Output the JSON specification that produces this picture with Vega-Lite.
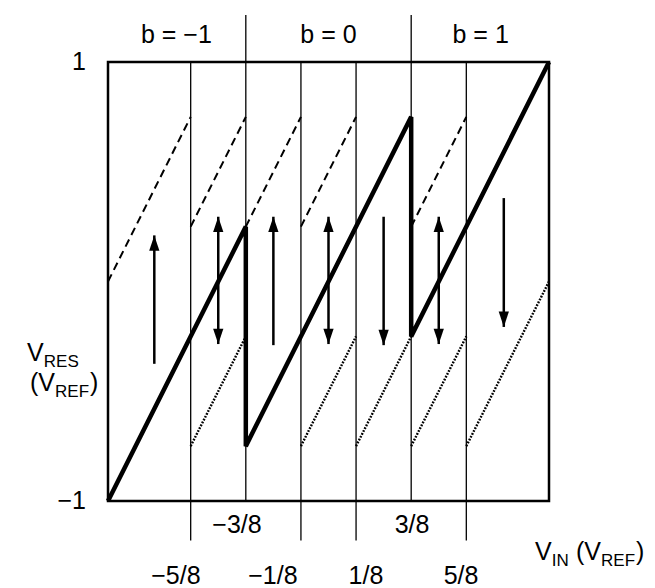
{
  "$schema": "https://vega.github.io/schema/vega-lite/v6.json",
  "width": 441,
  "height": 439,
  "autosize": {"type": "none"},
  "padding": {"left": 108, "top": 62, "right": 106, "bottom": 87},
  "background": "white",
  "config": {"view": {"stroke": null}, "font": "Liberation Sans", "text": {"font": "Liberation Sans", "color": "black"}},
  "datasets": {
    "grid": [
      {"x": -0.625, "y": 1, "y2": -1.18},
      {"x": -0.125, "y": 1, "y2": -1.18},
      {"x": 0.125, "y": 1, "y2": -1.18},
      {"x": 0.625, "y": 1, "y2": -1.18},
      {"x": -0.375, "y": 1.214, "y2": -1},
      {"x": 0.375, "y": 1.214, "y2": -1}
    ],
    "box": [{"x": -1, "x2": 1, "y": -1, "y2": 1}],
    "dashed": [
      {"x": -1, "y": 0, "x2": -0.625, "y2": 0.75},
      {"x": -0.625, "y": 0.25, "x2": -0.375, "y2": 0.75},
      {"x": -0.375, "y": 0.25, "x2": -0.125, "y2": 0.75},
      {"x": -0.125, "y": 0.25, "x2": 0.125, "y2": 0.75},
      {"x": 0.375, "y": 0.25, "x2": 0.625, "y2": 0.75}
    ],
    "dotted": [
      {"x": -0.625, "y": -0.75, "x2": -0.375, "y2": -0.25},
      {"x": -0.125, "y": -0.75, "x2": 0.125, "y2": -0.25},
      {"x": 0.125, "y": -0.75, "x2": 0.375, "y2": -0.25},
      {"x": 0.375, "y": -0.75, "x2": 0.625, "y2": -0.25},
      {"x": 0.625, "y": -0.75, "x2": 1, "y2": 0}
    ],
    "residue": [
      {"i": 0, "x": -1, "y": -1},
      {"i": 1, "x": -0.375, "y": 0.25},
      {"i": 2, "x": -0.375, "y": -0.75},
      {"i": 3, "x": 0.375, "y": 0.75},
      {"i": 4, "x": 0.375, "y": -0.25},
      {"i": 5, "x": 1, "y": 1}
    ],
    "shafts": [
      {"x": -0.79, "y": -0.375, "y2": 0.21},
      {"x": -0.5, "y": -0.285, "y2": 0.295},
      {"x": -0.25, "y": -0.29, "y2": 0.295},
      {"x": 0, "y": -0.285, "y2": 0.295},
      {"x": 0.25, "y": 0.295, "y2": -0.29},
      {"x": 0.5, "y": -0.285, "y2": 0.295},
      {"x": 0.795, "y": 0.38, "y2": -0.207}
    ],
    "heads": [
      {"x": -0.79, "y": 0.21, "dir": "up"},
      {"x": -0.5, "y": 0.295, "dir": "up"},
      {"x": -0.5, "y": -0.285, "dir": "down"},
      {"x": -0.25, "y": 0.295, "dir": "up"},
      {"x": 0, "y": 0.295, "dir": "up"},
      {"x": 0, "y": -0.285, "dir": "down"},
      {"x": 0.25, "y": -0.29, "dir": "down"},
      {"x": 0.5, "y": 0.295, "dir": "up"},
      {"x": 0.5, "y": -0.285, "dir": "down"},
      {"x": 0.795, "y": -0.207, "dir": "down"}
    ],
    "centerLabels": [
      {"t": "b = −1", "x": -0.69, "y": 1.123},
      {"t": "b = 0", "x": 0, "y": 1.123},
      {"t": "b = 1", "x": 0.69, "y": 1.123},
      {"t": "−3/8", "x": -0.415, "y": -1.109},
      {"t": "3/8", "x": 0.379, "y": -1.109},
      {"t": "−5/8", "x": -0.692, "y": -1.342},
      {"t": "−1/8", "x": -0.252, "y": -1.342},
      {"t": "1/8", "x": 0.17, "y": -1.342},
      {"t": "5/8", "x": 0.601, "y": -1.342}
    ],
    "yticks": [
      {"t": "1", "x": -1.1, "y": 1},
      {"t": "−1", "x": -1.1, "y": -1}
    ],
    "titleMain": [
      {"t": "V", "x": -1.367, "y": -0.362},
      {"t": "(V", "x": -1.354, "y": -0.499},
      {"t": ")", "x": -1.082, "y": -0.499},
      {"t": "V", "x": 0.9365, "y": -1.269},
      {"t": "(V", "x": 1.1224, "y": -1.269},
      {"t": ")", "x": 1.3946, "y": -1.269}
    ],
    "titleSub": [
      {"t": "RES", "x": -1.291, "y": -0.39},
      {"t": "REF", "x": -1.24, "y": -0.526},
      {"t": "IN", "x": 1.0122, "y": -1.296},
      {"t": "REF", "x": 1.236, "y": -1.296}
    ]
  },
  "encoding": {
    "x": {"field": "x", "type": "quantitative", "scale": {"domain": [-1, 1], "nice": false, "zero": false}, "axis": null},
    "y": {"field": "y", "type": "quantitative", "scale": {"domain": [-1, 1], "nice": false, "zero": false}, "axis": null}
  },
  "layer": [
    {
      "data": {"name": "grid"},
      "mark": {"type": "rule", "color": "black", "strokeWidth": 1.3},
      "encoding": {"y2": {"field": "y2"}}
    },
    {
      "data": {"name": "dashed"},
      "mark": {"type": "rule", "color": "black", "strokeWidth": 2, "strokeDash": [8, 5]},
      "encoding": {"x2": {"field": "x2"}, "y2": {"field": "y2"}}
    },
    {
      "data": {"name": "dotted"},
      "mark": {"type": "rule", "color": "black", "strokeWidth": 2.4, "strokeDash": [1.8, 1.4]},
      "encoding": {"x2": {"field": "x2"}, "y2": {"field": "y2"}}
    },
    {
      "data": {"name": "shafts"},
      "mark": {"type": "rule", "color": "black", "strokeWidth": 2.5},
      "encoding": {"y2": {"field": "y2"}}
    },
    {
      "data": {"name": "heads"},
      "transform": [{"filter": "datum.dir == 'up'"}],
      "mark": {"type": "point", "shape": "M0,0L-0.5,1.5L0.5,1.5Z", "size": 420, "filled": true, "fill": "black", "strokeWidth": 0, "opacity": 1}
    },
    {
      "data": {"name": "heads"},
      "transform": [{"filter": "datum.dir == 'down'"}],
      "mark": {"type": "point", "shape": "M0,0L-0.5,-1.5L0.5,-1.5Z", "size": 420, "filled": true, "fill": "black", "strokeWidth": 0, "opacity": 1}
    },
    {
      "data": {"name": "residue"},
      "mark": {"type": "line", "color": "black", "strokeWidth": 4.5, "strokeJoin": "miter", "strokeMiterLimit": 3},
      "encoding": {"order": {"field": "i", "type": "quantitative"}}
    },
    {
      "data": {"name": "box"},
      "mark": {"type": "rect", "fillOpacity": 0, "stroke": "black", "strokeWidth": 2.5},
      "encoding": {"x2": {"field": "x2"}, "y2": {"field": "y2"}}
    },
    {
      "data": {"name": "centerLabels"},
      "mark": {"type": "text", "fontSize": 25, "align": "center", "baseline": "middle"},
      "encoding": {"text": {"field": "t"}}
    },
    {
      "data": {"name": "yticks"},
      "mark": {"type": "text", "fontSize": 25, "align": "right", "baseline": "middle"},
      "encoding": {"text": {"field": "t"}}
    },
    {
      "data": {"name": "titleMain"},
      "mark": {"type": "text", "fontSize": 25, "align": "left", "baseline": "alphabetic"},
      "encoding": {"text": {"field": "t"}}
    },
    {
      "data": {"name": "titleSub"},
      "mark": {"type": "text", "fontSize": 17, "align": "left", "baseline": "alphabetic"},
      "encoding": {"text": {"field": "t"}}
    }
  ]
}
